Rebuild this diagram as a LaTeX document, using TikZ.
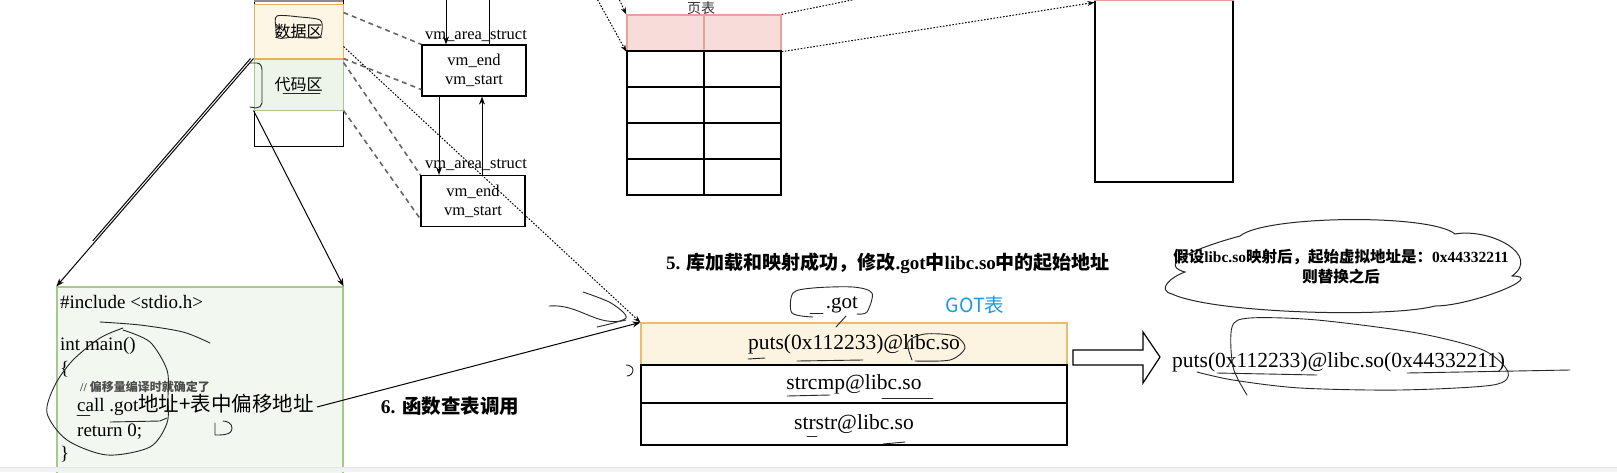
\documentclass[tikz,border=0pt]{standalone}
\usepackage{fontspec}
\setmainfont{Liberation Serif}
\newfontfamily\cjk{Noto Sans CJK SC}
\usepackage{tikz}
\usetikzlibrary{arrows.meta,positioning,calc}
\definecolor{MemOrange}{HTML}{E2B45F}
\definecolor{MemCream}{HTML}{FEF6E4}
\definecolor{CodeGreen}{HTML}{A6C793}
\definecolor{CodeMint}{HTML}{EDF4E9}
\definecolor{PtRed}{HTML}{E4A19D}
\definecolor{PtPink}{HTML}{F8DCDA}
\definecolor{GotGold}{HTML}{E8BE6A}
\definecolor{GotCream}{HTML}{FDF3E1}
\definecolor{TagBlue}{HTML}{1A9BE0}
\newcommand\zh[1]{{\cjk #1}}
\newcommand\fsz[2]{\fontsize{#1}{#2}\selectfont}
\tikzset{
  dataseg/.style={draw=MemOrange, line width=1pt, fill=MemCream,
    minimum width=89pt, minimum height=54pt, inner sep=0, font=\fsz{16}{18}},
  codeseg/.style={draw=CodeGreen, line width=1pt, fill=CodeMint,
    minimum width=89pt, minimum height=51pt, inner sep=0, font=\fsz{16}{18}},
  vmbox/.style={draw, line width=1.2pt, fill=white, align=center,
    minimum width=104pt, minimum height=51pt, inner sep=0, font=\fsz{16.5}{19}},
  vmlabel/.style={inner sep=0, font=\fsz{16.5}{19}},
  pthead/.style={draw=PtRed, line width=1.4pt, fill=PtPink,
    minimum width=77pt, minimum height=36pt, inner sep=0},
  ptcell/.style={draw, line width=1.5pt,
    minimum width=77pt, minimum height=36pt, inner sep=0},
  physbox/.style={draw, line width=1.2pt, minimum width=138pt, minimum height=182pt},
  srcbox/.style={draw=CodeGreen, line width=1.2pt, fill=CodeMint!70,
    minimum width=286pt, minimum height=190pt, inner sep=0},
  srcline/.style={anchor=west, inner sep=0, text height=13pt, text depth=4pt,
    font=\fsz{19}{21}},
  gotrow/.style={draw, line width=1.2pt, fill=white, minimum width=426pt,
    inner sep=0, font=\fsz{21.5}{24}},
  steplabel/.style={inner sep=0, font=\bfseries\fsz{19}{22}},
  wire/.style={-{Stealth[length=8pt, width=6pt]}, line width=1pt},
  plainline/.style={line width=1pt},
  maplink/.style={draw=black!60, line width=1.6pt, dash pattern=on 5pt off 4pt},
  pagelink/.style={-{Stealth[length=7pt, width=5pt]}, line width=1pt,
    dash pattern=on 1.6pt off 1.6pt},
  scribble/.style={draw=black!85, line width=0.9pt, line cap=round, line join=round}
}
\begin{document}
\begin{tikzpicture}[x=1pt, y=-1pt]
  \useasboundingbox (0,0) rectangle (1617,472);
  \fill[white] (0,0) rectangle (1617,472);

  % process address space
  \draw[line width=1pt] (254,0) -- (254,146) -- (343,146) -- (343,0);
  \draw[black!45, line width=2pt] (254,1) -- (343,1);
  \node[dataseg] (data) at (298.5,31) {\zh{数据区}};
  \node[codeseg] (code) at (298.5,84.5) {\zh{代码区}};

  % vm_area_struct chain
  \node[vmbox] (vma) at (474,70.5) {vm\_end\\vm\_start};
  \node[vmbox] (vmb) at (473,201) {vm\_end\\vm\_start};
  \node[vmlabel] (vmlaba) at (476,36) {vm\_area\_struct};
  \node[vmlabel] (vmlabb) at (476,165) {vm\_area\_struct};
  \coordinate (vmin) at (446,-2);
  \coordinate (vmout) at (489,-2);
  \draw[wire] (vmin) -- (vmin |- vma.north);
  \draw[plainline] (vmout |- vma.north) -- (vmout);
  \draw[wire] ([xshift=-35pt]vma.south) -- ([xshift=-34pt]vmb.north);
  \draw[wire] ([xshift=9pt]vmb.north) -- ([xshift=8pt]vma.south);

  \draw[maplink] ([yshift=-9pt]data.north east) -- (vma.north west);
  \draw[maplink] (data.south east) -- ([yshift=7pt]vma.south west);
  \draw[maplink] ([yshift=-4pt]code.north east) -- (vmb.north west);
  \draw[maplink] (code.south east) -- ([yshift=8pt]vmb.south west);

  % page table
  \node[pthead] (pth1) at (665.5,33) {};
  \node[pthead] (pth2) at (742.5,33) {};
  \foreach \r in {1,...,4}{
    \foreach \c in {1,2}{
      \node[ptcell] (pt\r\c) at ({627+77*(\c-0.5)},{51+36*(\r-0.5)}) {};
    }
  }
  \node[inner sep=0, text=black!80, font=\fsz{14}{16}] (ptlabel) at (701,8) {\zh{页表}};
  \coordinate (ptsrca) at (596,-3);
  \coordinate (ptsrcb) at (618,-3);
  \draw[pagelink] (ptsrca) -- (pth1.south west);
  \draw[pagelink] (ptsrcb) -- (pth1.north west);

  % physical memory
  \node[physbox] (phys) at (1164,91) {};
  \draw[PtRed, line width=1.6pt] ([yshift=-1pt]phys.north west) -- ([yshift=-1pt]phys.north east);
  \coordinate (ptexit) at (862,-2);
  \draw[line width=1pt, dash pattern=on 1.6pt off 1.6pt] (pth2.north east) -- (ptexit);
  \draw[pagelink] (pth2.south east) -- ([yshift=-3pt]phys.north west);

  % source code
  \node[srcbox] (src) at (200,382) {};
  \draw[wire] (code.north west) -- (src.north west);
  \draw[plainline] ([xshift=-3pt]code.north west) -- ($(code.north west)!0.8!(src.north west)+(-3,0)$);
  \draw[wire] (code.south west) -- (src.north east);
  \node[srcline] (inc) at (60,304) {\#include <stdio.h>};
  \node[srcline] (mainl) at (60,346) {int main()};
  \node[srcline] (lbrace) at (60,370) {\{};
  \node[srcline, text=black!70, font=\bfseries\fsz{12}{14}] (comment) at (80,387) {// \zh{偏移量编译时就确定了}};
  \node[srcline] (callline) at (77,407) {call .got\zh{\fsz{20.5}{22}地址+表中偏移地址}};
  \node[srcline] (ret) at (77,432) {return 0;};
  \node[srcline] (rbrace) at (60,455) {\}};

  % GOT
  \node[steplabel] (step5) at (888,263) {5. \zh{库加载和映射成功，修改}.got\zh{中}libc.so\zh{中的起始地址}};
  \node[inner sep=0, font=\fsz{21}{24}] (gotname) at (842,305) {.got};
  \node[inner sep=0, text=TagBlue, font=\fsz{19.5}{22}] (gottag) at (975,305) {\zh{GOT表}};
  \node[gotrow, draw=GotGold, fill=GotCream, minimum height=42pt] (got1) at (854,344) {puts(0x112233)@libc.so};
  \node[gotrow, minimum height=38pt] (got2) at (854,384) {strcmp@libc.so};
  \node[gotrow, minimum height=42pt] (got3) at (854,424) {strstr@libc.so};
  \draw[pagelink] ([yshift=12pt]data.south east) -- (got1.north west);
  \draw[wire] ([xshift=3pt]callline.east) -- (got1.north west);
  \node[steplabel, font=\bfseries\fsz{19.5}{22}] (step6) at (450,406) {6. \zh{函数查表调用}};

  % replaced entry
  \coordinate (bigarrow) at (1073,357.5);
  \draw[line width=1.2pt, fill=white] ([yshift=7.5pt]bigarrow) -- ++(70,0) -- ++(0,-18)
    -- ++(17,25) -- ++(-17,26) -- ++(0,-18) -- ++(-70,0) -- cycle;
  \node[anchor=west, inner sep=0, font=\fsz{21.5}{24}] (res) at (1172,362) {puts(0x112233)@libc.so(0x44332211)};
  \draw[line width=1pt, draw=black!85, fill=white]
    (1185,272) to[out=165, in=195, looseness=1.3] (1240,236)
    to[out=40, in=140, looseness=0.38] (1455,234)
    to[out=10, in=35, looseness=1.3] (1512,276)
    to[out=0, in=0, looseness=1.1] (1435,306)
    to[out=195, in=-25, looseness=0.45] (1172,294)
    to[out=165, in=200, looseness=1.6] cycle;
  \node[align=center, inner sep=0, font=\bfseries\fsz{15.5}{20}] (notetxt) at (1341,267)
    {\zh{假设}libc.so\zh{映射后，起始虚拟地址是：}0x44332211\\\zh{则替换之后}};

  % hand scribbles
  \draw[scribble] plot[smooth cycle] coordinates {(277,16) (300,17) (320,20) (322,30) (318,38) (295,37) (278,38) (276,28)};
  \draw[scribble] (250,63) -- (257,63) to[out=0,in=90] (262,70) -- (262,103) to[out=-90,in=0] (256,108) -- (250,107);
  \draw[scribble] (283,93) -- (320,93);
  \draw[scribble] plot[smooth] coordinates {(123,330) (150,342) (167,370) (168,397) (167,423) (150,447) (107,455) (67,440) (47,413) (55,385) (73,360) (100,338) (123,328)};
  \draw[scribble] plot[smooth] coordinates {(100,322) (140,325) (183,332) (210,343)};
  \draw[scribble] (215,423) -- (215,435) to[out=0,in=-90] (232,428) to[out=90,in=0] (223,421);
  \draw[scribble] (77,415) -- (90,415);
  \draw[scribble] (110,422) -- (160,421) -- (167,418);
  \draw[scribble] (549,306) to[out=5,in=195] (626,320);
  \draw[scribble] plot[smooth] coordinates {(583,292) (611,303) (626,318) (597,327)};
  \draw[scribble] plot[smooth] coordinates {(813,317) (792,313) (793,293) (813,288) (853,287) (872,293) (867,312) (857,314)};
  \draw[scribble] (810,313) -- (823,313);
  \draw[scribble] (836,327) -- (846,316);
  \draw[scribble] (748,359) -- (765,358);
  \draw[scribble] (797,361) -- (863,360);
  \draw[scribble] plot[smooth] coordinates {(912,360) (908,342) (925,334) (955,336) (965,348) (950,360) (915,361)};
  \draw[scribble] (787,396) -- (830,395);
  \draw[scribble] (882,398) -- (933,398);
  \draw[scribble] (807,436) -- (817,436);
  \draw[scribble] (883,444) -- (905,442);
  \draw[scribble] (626,365) to[out=0,in=90] (633,370) to[out=-90,in=0] (627,376);
  \draw[scribble] plot[smooth] coordinates {(1247,395) (1233,367) (1232,327) (1250,318) (1317,320) (1417,333) (1483,350) (1508,372) (1493,385) (1400,390) (1300,388) (1233,380) (1197,372)};
  \draw[scribble] (1217,373) -- (1317,375);
  \draw[scribble] (1407,373) -- (1570,370);

  % screen edge
  \fill[black!5] (0,467) rectangle (1617,472);
  \draw[black!10] (0,467) -- (1617,467);
\end{tikzpicture}
\end{document}
